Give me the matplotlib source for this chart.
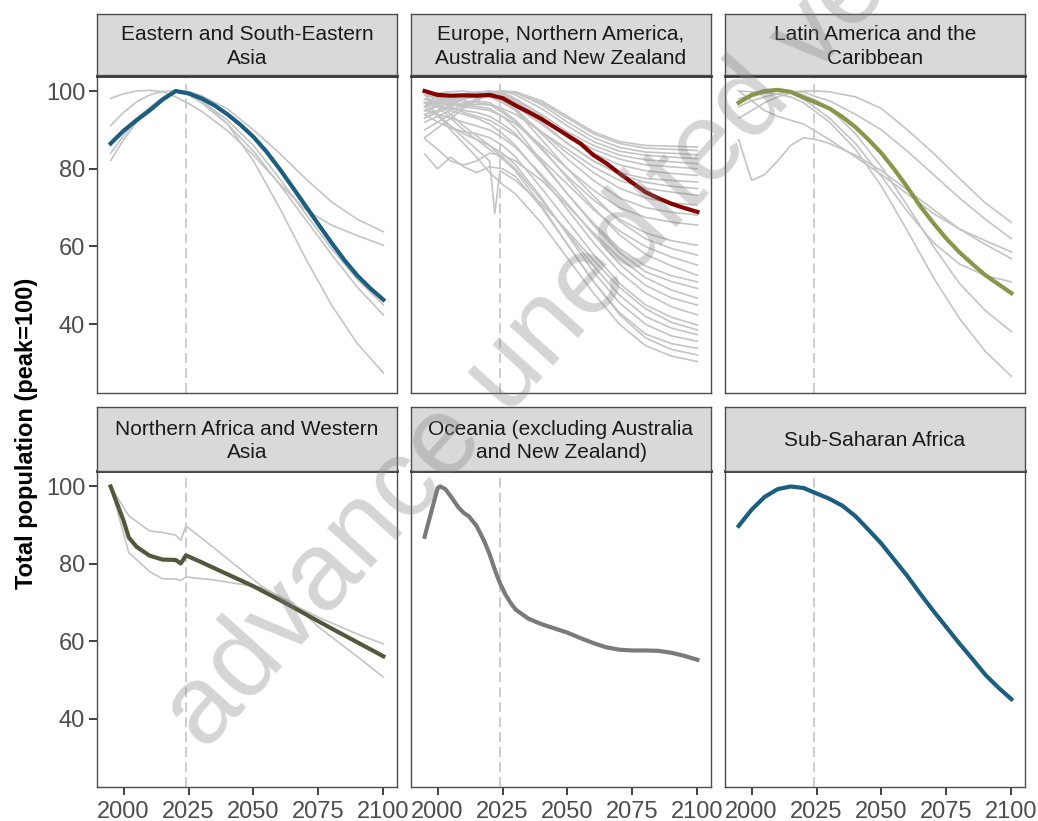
import matplotlib.pyplot as plt

plt.rcParams['font.family'] = ['Liberation Sans', 'DejaVu Sans']

W, H = 1038, 821

# ---- data (index, peak = 100) ----
years5 = list(range(1995, 2101, 5))
grey_years = [1995, 2000, 2005, 2010, 2015, 2020, 2025, 2030, 2040, 2050, 2060, 2070, 2080, 2090, 2100]

# Eastern and South-Eastern Asia
esea_main = [86.5, 89.8, 92.5, 95.0, 97.8, 100.0, 99.4, 98.1, 96.3, 94.0, 91.3, 88.2,
             84.4, 80.0, 75.3, 70.5, 65.7, 61.0, 56.5, 52.5, 49.2, 46.3]
esea_grey = [
    [98.1, 99.3, 100, 100.2, 99.8, 98.5, 96.8, 94.8, 89.8, 83.5, 76.2, 69.5, 65.5, 62.8, 60.3],
    [91.1, 94.5, 97.2, 99.0, 99.9, 100, 99.8, 98.8, 95.4, 90.0, 84.0, 77.5, 71.5, 67.0, 63.8],
    [82.1, 87.5, 92.0, 95.5, 98.3, 99.9, 99.5, 97.5, 91.5, 82.0, 70.0, 57.0, 45.0, 35.0, 27.5],
    [86.4, 90.0, 93.0, 95.8, 98.3, 100, 99.2, 97.5, 92.5, 86.0, 77.5, 68.5, 59.5, 51.5, 45.0],
    [84.0, 88.5, 92.5, 95.5, 98.0, 99.9, 99.0, 97.0, 91.5, 84.5, 76.0, 67.0, 58.0, 49.5, 42.4],
]

# Europe, Northern America, Australia and New Zealand
eur_main = [100.0, 99.0, 98.8, 98.9, 98.8, 99.0, 98.2, 96.3, 94.6, 92.8, 90.7, 88.6,
            86.5, 83.5, 81.4, 78.8, 76.4, 74.0, 72.4, 71.0, 69.9, 68.9]
eur_grey = [
    [88, 90.5, 93, 95.5, 97.5, 99.2, 100, 99.8, 97.5, 93.5, 89.5, 87, 86, 85.8, 85.6],
    [90, 92, 94, 96, 98, 99.5, 100, 99.5, 97, 93, 89, 86.5, 85.3, 85, 84.7],
    [92, 93.5, 95, 96.5, 98, 99.3, 99.9, 99.6, 96.5, 92, 88, 85.5, 84.3, 84, 83.6],
    [94, 95, 96.5, 97.8, 99, 99.8, 100, 99, 95.5, 91, 87, 84.5, 83.5, 83, 82.6],
    [95, 96, 97, 98, 99, 99.7, 99.5, 98, 94, 89.5, 86, 83.5, 82.3, 81.8, 81.3],
    [97, 97.5, 98, 98.8, 99.5, 100, 99.4, 97.5, 93, 88.5, 85, 82.5, 81, 80.5, 80],
    [93, 95, 96.5, 98, 99, 99.8, 99.7, 98, 93.5, 88, 84, 81, 79.5, 78.8, 78.3],
    [96, 97, 97.5, 98.5, 99.5, 100, 99, 97, 92, 86.5, 82, 79, 77.5, 77, 76.6],
    [99, 99.5, 99.8, 100, 99.5, 98.5, 97.5, 96, 91.5, 86.5, 82, 78.5, 76.5, 75.5, 74.9],
    [100, 98.5, 97, 96.5, 96.5, 96.5, 95.5, 94, 89.5, 85, 80.5, 77, 75, 74, 73.2],
    [98, 97.5, 97.5, 98, 98.5, 98.5, 97, 95, 89.5, 84, 79, 75, 72.5, 71.3, 70.6],
    [95, 96.5, 98, 99, 99.5, 99.2, 97.8, 95.5, 89, 82.5, 77, 72.5, 70, 68.8, 68.1],
    [97, 97, 96.5, 96, 95.5, 95, 93.5, 91.5, 86, 80, 74.5, 70, 67.5, 66.3, 65.5],
    [99, 98.5, 98, 97.5, 97, 96.5, 94.5, 92, 85, 78, 72, 67, 63.5, 61.5, 60.3],
    [96, 97.5, 98.5, 99.2, 99.8, 99.5, 97.5, 95, 87.5, 80, 73, 66.5, 62, 59.5, 57.8],
    [100, 98, 96, 94.5, 93.5, 92.5, 90.5, 88.5, 82.5, 76, 69.5, 64, 60, 57.3, 55.2],
    [93, 94.5, 96, 97, 97.5, 97, 95, 92.5, 85.5, 77.5, 70, 63, 58, 55, 52.6],
    [97, 96, 95.5, 95, 94.5, 93.5, 91.5, 89, 81.5, 73.5, 66, 59.5, 55, 52.5, 50.9],
    [99, 98, 97, 96.5, 96, 95.5, 93.5, 90.5, 82, 73.5, 65.5, 58.5, 53.5, 51, 49.2],
    [87.7, 85, 82, 81, 82, 84, 83.5, 82, 77, 70.5, 63.5, 57, 52, 48.8, 46.7],
    [95, 94, 93, 92, 91, 90, 88, 85.5, 78.5, 71, 63, 55.5, 50, 46.8, 44.9],
    [98, 96.5, 95, 94, 93, 91.5, 89, 86, 78, 69.5, 61, 53.5, 48, 44.5, 42.4],
    [94, 92, 90.5, 89.5, 89, 88, 86, 83, 75, 66.5, 58, 50.5, 45, 41.8, 39.8],
    [100, 97, 94, 91, 88.5, 86, 83, 80, 72, 63.5, 55, 47.5, 42, 39, 37.3],
    [96, 93.5, 91, 89, 87.5, 86, 84, 81, 72.5, 63, 53.5, 45.5, 40, 37, 35.6],
    [99, 96, 93, 90, 87.5, 85, 82.5, 79.5, 70.5, 60.5, 51, 43, 37.5, 35, 33.8],
    [83.8, 80, 83, 80.5, 79, 80.5, 80, 78, 70, 60.5, 51, 42.5, 36.5, 33.5, 32.1],
    [97, 94, 90, 86.5, 83, 79, 76, 73.5, 66, 57, 48, 40, 34.5, 31.8, 30.4],
]
eur_dip_years = [1995, 2000, 2005, 2010, 2015, 2020, 2022, 2024, 2030, 2040, 2050, 2060, 2070, 2080, 2090, 2100]
eur_dip = [97, 94, 91, 88, 85, 82, 68.5, 79.5, 77, 71, 64, 56.5, 49.5, 44, 40.5, 38.5]

# Latin America and the Caribbean
lac_main = [97.0, 99.0, 100.0, 100.3, 99.8, 98.3, 97.0, 95.5, 93.3, 90.7, 87.5, 84.0,
            79.8, 75.2, 70.3, 66.0, 62.0, 58.5, 55.5, 52.6, 50.3, 48.0]
lac_grey = [
    [96, 97.5, 98.5, 99.3, 99.8, 100, 100, 99.8, 98.5, 95.5, 90, 84, 77.5, 71.2, 66.2],
    [93, 95, 97, 98.5, 99.5, 99.8, 98.5, 97.5, 94, 90, 84.5, 78.5, 72.5, 67, 62],
    [100, 97.5, 95, 93.5, 92.5, 91.5, 89.5, 87.5, 83, 78.5, 73.5, 68.5, 64.5, 61.5, 58.6],
    [87.5, 77, 78.5, 82, 86, 88, 87.5, 86.5, 83.5, 79.5, 74.5, 69.5, 64.5, 60.5, 56.9],
    [98, 99, 99.8, 100, 99.5, 98, 95.5, 93, 86.5, 78, 69, 61, 55.5, 52.5, 50.9],
    [97, 98.5, 99.5, 100, 99.8, 99, 97.5, 95.5, 89, 80.5, 70.5, 60, 50.5, 43.5, 38.1],
    [100, 99.8, 99.5, 99.2, 98.5, 97, 94.5, 92, 85, 75.5, 64, 52, 41.5, 33, 26.6],
]

# Northern Africa and Western Asia
nawa_years = [1995, 2000, 2002, 2005, 2010, 2015, 2020, 2022, 2024, 2030, 2040, 2050, 2060, 2070, 2080, 2090, 2100]
nawa_main = [100, 91.1, 86.8, 84.4, 82.1, 81.1, 81.0, 80.1, 82.2, 80.4, 77.3, 74.2, 70.7, 67.0, 63.3, 59.7, 56.1]
nawa_grey_years = [1995, 2002, 2010, 2015, 2020, 2022, 2024, 2035, 2053, 2065, 2075, 2090, 2100]
nawa_grey = [
    [100, 92.4, 88.5, 88.1, 87.4, 86.1, 89.8, 84.0, 74.3, 69.5, 66.2, 61.8, 59.3],
    [100, 82.9, 78.0, 76.1, 76.1, 75.7, 76.6, 75.8, 73.9, 70.0, 63.7, 56.0, 50.7],
]

# Oceania (excluding Australia and New Zealand)
oc_years = [1995, 2000, 2001, 2003, 2005, 2008, 2010, 2012, 2015, 2018, 2020, 2022, 2024, 2026, 2028,
            2030, 2035, 2040, 2045, 2050, 2055, 2060, 2065, 2070, 2075, 2080, 2085, 2090, 2095, 2100]
oc_main = [87, 99.6, 100, 99.3, 97.5, 94.6, 93.2, 92.3, 89.8, 85.8, 82.5, 78.5, 75.0, 72.2, 70.0,
           68.2, 65.8, 64.4, 63.3, 62.2, 60.8, 59.5, 58.4, 57.8, 57.6, 57.6, 57.5, 57.0, 56.2, 55.2]

# Sub-Saharan Africa
ssa_main = [89.8, 94.0, 97.3, 99.3, 100.0, 99.6, 98.2, 96.8, 95.0, 92.3, 88.8, 85.2,
            81.0, 76.8, 72.2, 67.8, 63.6, 59.4, 55.4, 51.3, 48.0, 45.0]

titles = ["Eastern and South-Eastern\nAsia", "Europe, Northern America,\nAustralia and New Zealand",
          "Latin America and the\nCaribbean", "Northern Africa and Western\nAsia",
          "Oceania (excluding Australia\nand New Zealand)", "Sub-Saharan Africa"]
colors = ["#1B5E80", "#850000", "#87974A", "#55573C", "#7A7A7A", "#1B5E80"]

panels = [
    (years5, esea_main, [(grey_years, g) for g in esea_grey]),
    (years5, eur_main, [(grey_years, g) for g in eur_grey] + [(eur_dip_years, eur_dip)]),
    (years5, lac_main, [(grey_years, g) for g in lac_grey]),
    (nawa_years, nawa_main, [(nawa_grey_years, g) for g in nawa_grey]),
    (oc_years, oc_main, []),
    (years5, ssa_main, []),
]

# ---- layout (pixel boxes) ----
col_left = [97, 411, 725]
pw = 300
rows = [((14, 75.5), (75.5, 393)), ((407, 471), (471, 787))]


def box(x0, y0, x1, y1):
    return [x0 / W, 1 - y1 / H, (x1 - x0) / W, (y1 - y0) / H]


fig = plt.figure(figsize=(W / 100, H / 100), dpi=100)

for i, (yrs, main, greys) in enumerate(panels):
    r, c = divmod(i, 3)
    (s0, s1), (p0, p1) = rows[r]
    x0 = col_left[c]

    ax = fig.add_axes(box(x0, p0, x0 + pw, p1))
    for gy, gv in greys:
        ax.plot(gy, gv, color="#C4C4C4", lw=1.2, solid_joinstyle="round", zorder=2)
    ax.axvline(2024, color="#BEBEBE", lw=1.1, dashes=(6.5, 3.3), zorder=1)
    ax.plot(yrs, main, color=colors[i], lw=3.0, solid_joinstyle="round", zorder=3)

    ax.set_xlim(1989.75, 2105.25)
    ax.set_ylim(22.3, 104)
    ax.set_xticks([2000, 2025, 2050, 2075, 2100])
    ax.set_yticks([40, 60, 80, 100])
    ax.tick_params(direction="out", length=5.5, width=1.3, color="#333333",
                   labelsize=17, labelcolor="#4D4D4D")
    ax.tick_params(axis="x", pad=4.5)
    ax.tick_params(axis="y", pad=3)
    if r == 0:
        ax.tick_params(axis="x", bottom=False, labelbottom=False)
    if c > 0:
        ax.tick_params(axis="y", left=False, labelleft=False)
    for sp in ax.spines.values():
        sp.set_color("#4D4D4D")
        sp.set_linewidth(1.0)
    ax.spines["top"].set_color("#333333")
    ax.spines["top"].set_linewidth(2.0)

    sx = fig.add_axes(box(x0, s0, x0 + pw, s1))
    sx.set_facecolor("#D9D9D9")
    sx.set_xticks([])
    sx.set_yticks([])
    for sp in sx.spines.values():
        sp.set_color("#4D4D4D")
        sp.set_linewidth(1.0)
    sx.text(0.5, 0.47, titles[i], ha="center", va="center", fontsize=15,
            color="#1A1A1A", linespacing=1.32, transform=sx.transAxes)

fig.text(27 / W, 1 - 433 / H, "Total population (peak=100)", rotation=90,
         ha="center", va="center", fontsize=17, fontweight="bold", color="black")

# watermark
fig.text(205 / W, 1 - 752 / H, "advance unedited version", rotation=48,
         rotation_mode="anchor", ha="left", va="baseline", fontsize=80,
         color="#808080", alpha=0.33, zorder=10)

fig.savefig("out.png", dpi=100)
